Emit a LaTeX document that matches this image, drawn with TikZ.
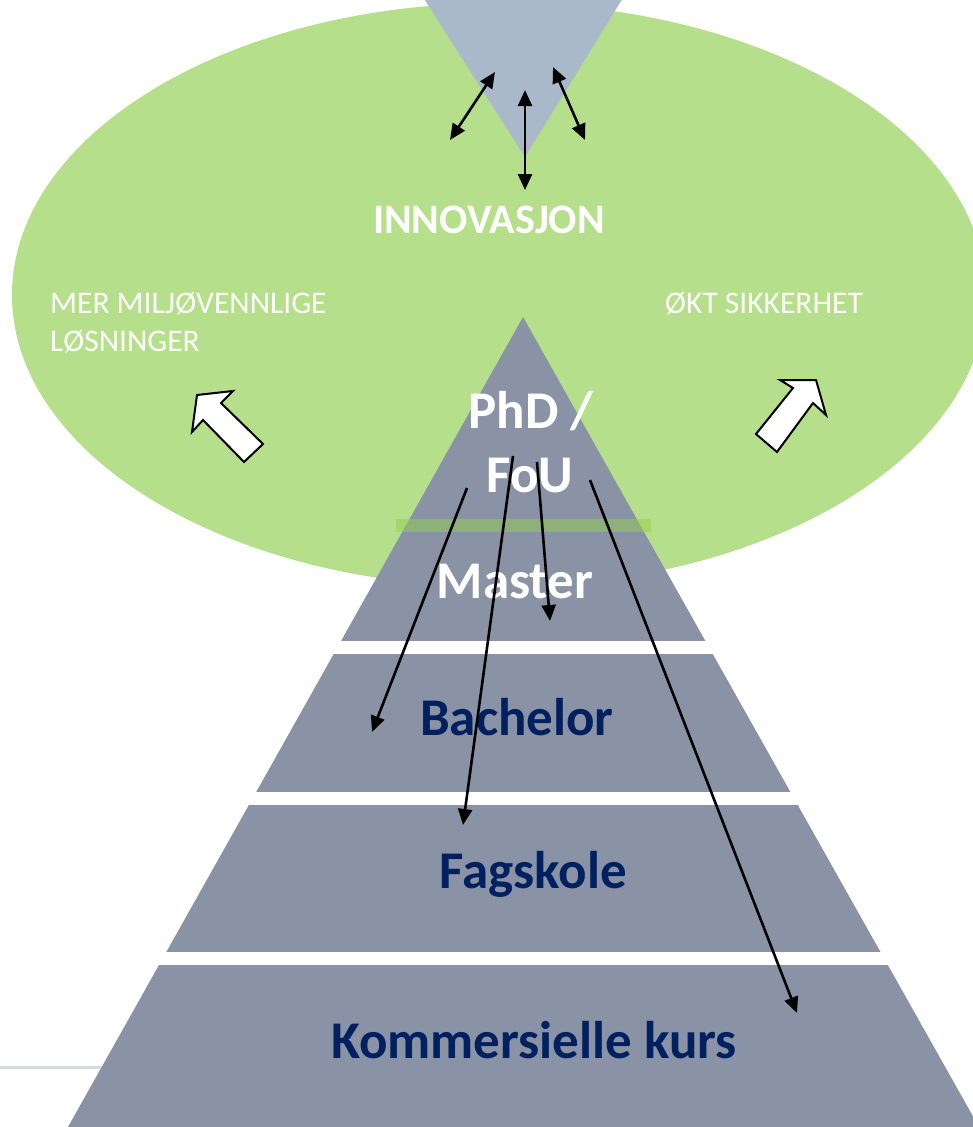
\documentclass[tikz,border=0pt]{standalone}
\usepackage{fontspec}
\setmainfont{Carlito}
\usetikzlibrary{arrows.meta}
\definecolor{elgreen}{HTML}{B5DF8A}
\definecolor{topblue}{HTML}{AAB9C9}
\definecolor{pyrgray}{HTML}{8A93A5}
\definecolor{navy}{HTML}{002060}
\definecolor{bargreen}{HTML}{92D050}
\definecolor{slideline}{HTML}{D5D9E0}
\tikzset{
  biglabel/.style={anchor=base, inner sep=0pt, font=\fontsize{53}{63}\selectfont\bfseries},
  whitelabel/.style={biglabel, text=white},
  navylabel/.style={biglabel, text=navy},
  smalllabel/.style={anchor=base west, inner sep=0pt, text=white, font=\fontsize{31.5}{38}\selectfont},
  thinarrow/.style={line width=2.6pt, -{Triangle[length=16pt,width=14pt]}},
  dblarrow/.style={line width=2.6pt, {Triangle[length=16pt,width=14pt]}-{Triangle[length=16pt,width=14pt]}},
  blockarrow/.style={fill=white, draw=black, line width=2pt, line join=miter}
}
\begin{document}
\begin{tikzpicture}[x=1pt,y=-1pt]
\useasboundingbox (0,0) rectangle (973,1127);
\clip (0,0) rectangle (973,1127);
% slide line
\draw[slideline, line width=3pt] (0,1067) -- (300,1067);
% ellipse
\fill[elgreen] (499,295) ellipse [x radius=487pt, y radius=292pt];
% top inverted triangle
\fill[topblue] (412,-20) -- (634,-20) -- (525,157) -- cycle;
% pyramid
\fill[pyrgray] (523,317) -- (979,1127) -- (68,1127) -- cycle;
\fill[white] (0,641) rectangle (973,654);
\fill[white] (0,792) rectangle (973,805);
\fill[white] (0,952) rectangle (973,965);
% green bar
\fill[bargreen, opacity=0.5] (396,519) rectangle (651,532);
% labels
\node[anchor=base, inner sep=0pt, text=white, font=\fontsize{42}{50}\selectfont\bfseries] (innov) at (489,233) {INNOVASJON};
\node[smalllabel] (mer) at (50,313) {MER MILJØVENNLIGE};
\node[smalllabel] (losn) at (50,351) {LØSNINGER};
\node[smalllabel] (okt) at (665,313) {ØKT SIKKERHET};
\node[whitelabel] (phd) at (531,428) {PhD /};
\node[whitelabel] (fou) at (530,492) {FoU};
\node[whitelabel] (master) at (515,598) {Master};
\node[navylabel] (bach) at (517,735) {Bachelor};
\node[navylabel] (fag) at (533,888) {Fagskole};
\node[navylabel] (komm) at (534,1058) {Kommersielle kurs};
% top double arrows
\coordinate (ta1) at (495,72);  \coordinate (tb1) at (450,140);
\coordinate (ta2) at (525,90);  \coordinate (tb2) at (525,190);
\coordinate (ta3) at (553,67);  \coordinate (tb3) at (585,140);
\draw[dblarrow] (ta1) -- (tb1);
\draw[dblarrow] (ta2) -- (tb2);
\draw[dblarrow] (ta3) -- (tb3);
% pyramid arrows
\coordinate (s1) at (467,488); \coordinate (e1) at (372,732);
\coordinate (s2) at (513,456); \coordinate (e2) at (463,825);
\coordinate (s3) at (537,462); \coordinate (e3) at (550,621);
\coordinate (s4) at (590,480); \coordinate (e4) at (797,1013);
\draw[thinarrow] (s1) -- (e1);
\draw[thinarrow] (s2) -- (e2);
\draw[thinarrow] (s3) -- (e3);
\draw[thinarrow] (s4) -- (e4);
% block arrows
\draw[blockarrow] (197,395) -- (233,391) -- (221,403) -- (263,444) -- (244,462) -- (203,420) -- (192,432) -- cycle;
\draw[blockarrow] (816,380) -- (826,415) -- (813,403) -- (777,452) -- (756,434) -- (793,388) -- (780,380) -- cycle;
\end{tikzpicture}
\end{document}
